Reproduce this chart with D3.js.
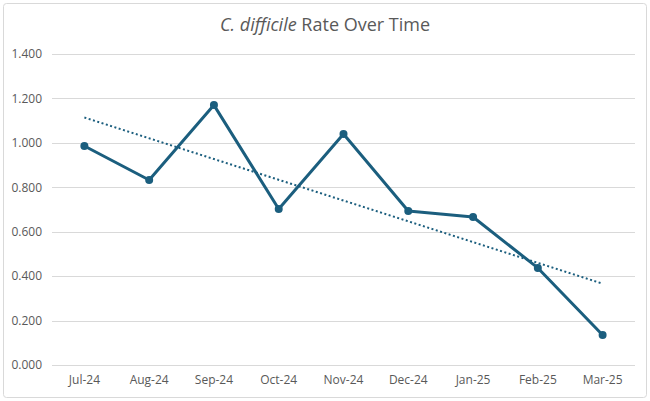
<!DOCTYPE html>
<html>
<head>
<meta charset="utf-8">
<script src="https://cdn.jsdelivr.net/npm/d3@7/dist/d3.min.js"></script>
<style>
  html, body { margin: 0; padding: 0; background: #fff; }
  svg { display: block; font-family: "Open Sans", "Noto Sans", sans-serif; }
</style>
</head>
<body>
<svg id="chart" width="650" height="401"></svg>
<script>
// chart data
const months = ["Jul-24", "Aug-24", "Sep-24", "Oct-24", "Nov-24", "Dec-24", "Jan-25", "Feb-25", "Mar-25"];
const rates = [0.986, 0.833, 1.170, 0.702, 1.040, 0.693, 0.666, 0.437, 0.135];
const yTicks = [0, 0.2, 0.4, 0.6, 0.8, 1.0, 1.2, 1.4];

const width = 650, height = 401;
const margin = { top: 54, right: 15, bottom: 36, left: 52 };

const svg = d3.select("#chart");

// outer chart border
svg.append("rect")
  .attr("x", 3.5).attr("y", 3.5)
  .attr("width", width - 7).attr("height", height - 7)
  .attr("rx", 3)
  .attr("fill", "#fff")
  .attr("stroke", "#d9d9d9");

const x = d3.scaleBand()
  .domain(months)
  .range([margin.left, width - margin.right]);

const y = d3.scaleLinear()
  .domain([0, 1.4])
  .range([height - margin.bottom, margin.top]);

// gridlines
svg.append("g")
  .selectAll("line")
  .data(yTicks)
  .join("line")
  .attr("x1", margin.left)
  .attr("x2", width - margin.right)
  .attr("y1", d => Math.round(y(d)) + 0.5)
  .attr("y2", d => Math.round(y(d)) + 0.5)
  .attr("stroke", "#d9d9d9")
  .attr("stroke-width", 1);

// y axis labels
const yAxis = d3.axisLeft(y).tickValues(yTicks).tickFormat(d3.format(".3f")).tickSize(0).tickPadding(10);
svg.append("g")
  .attr("transform", `translate(${margin.left},0)`)
  .call(yAxis)
  .call(g => g.select(".domain").remove())
  .selectAll("text")
  .attr("fill", "#595959")
  .style("font-size", "12px")
  .style("font-family", "'Open Sans', sans-serif");

// x axis labels
const xAxis = d3.axisBottom(x).tickSize(0).tickPadding(10);
svg.append("g")
  .attr("transform", `translate(0,${height - margin.bottom})`)
  .call(xAxis)
  .call(g => g.select(".domain").remove())
  .selectAll("text")
  .attr("fill", "#595959")
  .style("font-size", "12px")
  .style("font-family", "'Open Sans', sans-serif");

const cx = d => x(d) + x.bandwidth() / 2;

// linear trendline (least squares fit)
const n = rates.length;
const xm = d3.mean(d3.range(n));
const ym = d3.mean(rates);
const slope = d3.sum(rates, (v, i) => (i - xm) * (v - ym)) / d3.sum(d3.range(n), i => (i - xm) ** 2);
const icpt = ym - slope * xm;
const trend = [0, n - 1].map(i => ({ m: months[i], v: icpt + slope * i }));

svg.append("path")
  .datum(trend)
  .attr("fill", "none")
  .attr("stroke", "#1b5e7e")
  .attr("stroke-width", 2)
  .attr("stroke-dasharray", "2,2.5")
  .attr("d", d3.line().x(d => cx(d.m)).y(d => y(d.v)));

// series line
const line = d3.line()
  .x((d, i) => cx(months[i]))
  .y(d => y(d));

svg.append("path")
  .datum(rates)
  .attr("fill", "none")
  .attr("stroke", "#1b5e7e")
  .attr("stroke-width", 3)
  .attr("stroke-linejoin", "round")
  .attr("d", line);

svg.append("g")
  .selectAll("circle")
  .data(rates)
  .join("circle")
  .attr("cx", (d, i) => cx(months[i]))
  .attr("cy", d => y(d))
  .attr("r", 4)
  .attr("fill", "#1b5e7e");

// title
const title = svg.append("text")
  .attr("x", width / 2)
  .attr("y", 31)
  .attr("text-anchor", "middle")
  .attr("fill", "#595959")
  .style("font-size", "18px")
  .style("font-family", "'Open Sans', sans-serif");
title.append("tspan").attr("font-style", "italic").text("C. difficile");
title.append("tspan").text(" Rate Over Time");
</script>
</body>
</html>
